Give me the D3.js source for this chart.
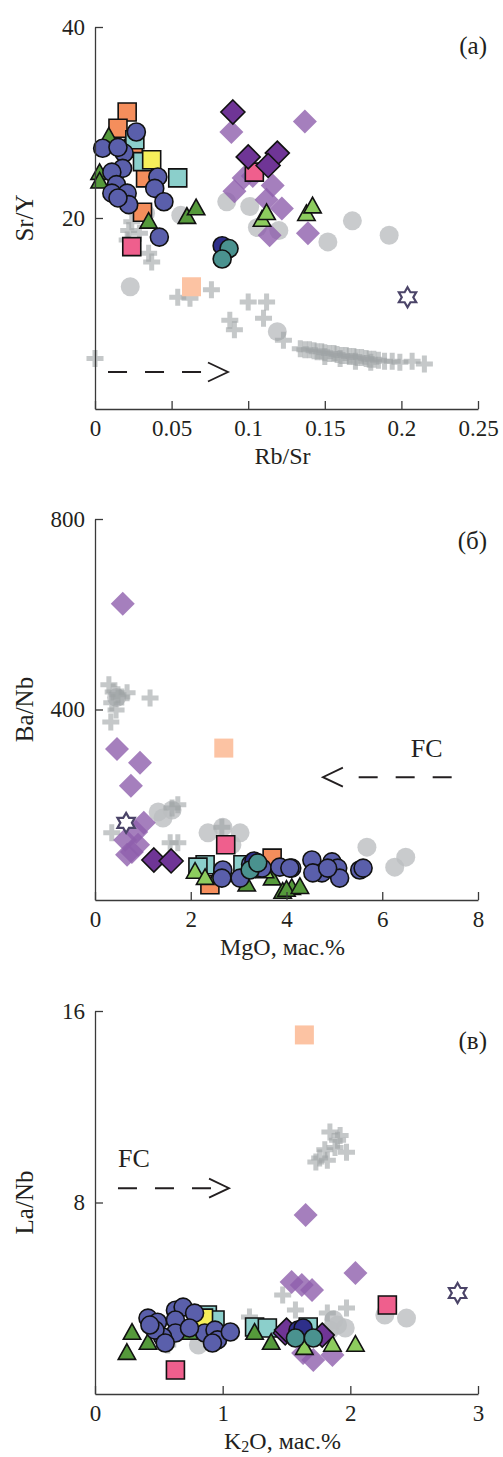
<!DOCTYPE html>
<html>
<head>
<meta charset="utf-8">
<script src="https://cdnjs.cloudflare.com/ajax/libs/d3/7.8.5/d3.min.js"></script>
<style>
body { margin: 0; background: #fff; }
svg text { font-family: "Liberation Serif", "Times New Roman", serif; fill: #231f20; }
</style>
</head>
<body>
<svg id="chart" width="503" height="1457"></svg>
<script>
/**
 * DATA
 * each point is [x, y] in the units of its panel
 */

// Panel (a): Sr/Y vs Rb/Sr
var aXTicks = [0, 0.05, 0.1, 0.15, 0.2, 0.25];
var aYTicks = [20, 40];
var aGrayDot = [[0.023,12.8],[0.033,20.5],[0.056,20.3],[0.086,21.7],[0.101,21.2],[0.106,19.0],[0.120,18.7],[0.152,17.5],[0.168,19.7],[0.192,18.2],[0.119,8.1]];
var aCross = [[0.022,18.7],[0.024,19.6],[0.029,18.4],[0.035,16.3],[0.037,15.4],[0.021,17.7],[0.054,11.7],[0.062,11.6],[0.076,12.5],[0.100,11.2],[0.112,11.2],[0.088,9.3],[0.091,8.3],[0.110,9.5],[0.123,7.2],[0.0,5.3],
  [0.134,6.3],[0.137,6.2],[0.140,6.2],[0.143,6.1],[0.145,6.0],[0.148,6.0],[0.150,5.9],[0.153,5.8],[0.156,5.8],[0.158,5.7],[0.161,5.6],[0.164,5.6],[0.166,5.5],[0.169,5.5],[0.171,5.4],[0.174,5.4],[0.177,5.3],[0.179,5.2],[0.182,5.2],[0.185,5.1],[0.189,5.0],[0.194,5.0],[0.199,4.9],[0.207,5.0],[0.215,4.7],
  [0.150,5.5],[0.160,5.3],[0.170,5.0],[0.180,4.9]];
var aLilac = [[0.089,29.0],[0.137,30.1],[0.091,22.8],[0.103,24.4],[0.097,24.2],[0.116,23.4],[0.112,21.9],[0.122,21.0],[0.114,18.2],[0.139,18.4]];
var aPeach = [[0.063,12.8]];
var aOrange = [[0.021,31.1],[0.015,29.4],[0.025,27.3],[0.033,24.2],[0.031,20.6]];
var aCyan = [[0.026,28.2],[0.031,25.9],[0.054,24.2]];
var aYellow = [[0.037,26.1]];
var aPink = [[0.024,17.0],[0.104,24.8]];
var aGreenDark = [[0.003,24.7],[0.003,23.8],[0.009,28.5],[0.035,19.6],[0.060,20.1],[0.066,21.0]];
var aGreenLight = [[0.109,19.8],[0.112,20.5],[0.138,20.4],[0.142,21.2]];
var aViolet = [[0.090,31.1],[0.100,26.4],[0.119,26.8],[0.113,25.5]];
var aBlue = [[0.027,29.0],[0.005,27.3],[0.019,26.8],[0.015,27.4],[0.018,25.2],[0.011,24.8],[0.014,23.5],[0.011,22.6],[0.021,22.6],[0.022,21.4],[0.041,24.3],[0.039,23.1],[0.045,21.7],[0.042,18.0],[0.015,22.1]];
var aNavy = [[0.083,17.1]];
var aTeal = [[0.0875,16.8],[0.083,15.7]];
var aStar = [[0.204,11.7]];

// Panel (б): Ba/Nb vs MgO
var bXTicks = [0, 2, 4, 6, 8];
var bYTicks = [400, 800];
var bGrayDot = [[1.32,185],[1.61,189],[1.42,172],[2.36,141],[2.67,153],[3.03,141],[2.86,116],[5.68,111],[6.26,69],[6.49,90],[0.45,425]];
var bCross = [[0.29,452],[0.38,437],[0.48,431],[0.35,414],[0.44,399],[0.56,426],[0.67,435],[0.33,374],[1.15,424],[1.61,193],[1.73,200],[0.35,141],[1.57,120],[1.73,120],[2.65,153]];
var bLilac = [[0.58,622],[0.46,317],[0.94,288],[0.75,240],[1.02,162],[0.63,126],[0.77,101],[0.90,116],[0.67,95],[0.86,143]];
var bPeach = [[2.69,319]];
var bOrange = [[2.40,32],[3.70,88]];
var bCyan = [[2.30,74],[2.15,69],[3.09,74]];
var bPink = [[2.73,116]];
var bGreenDark = [[3.92,17],[4.11,25],[3.17,32],[4.00,21],[4.28,27],[2.55,50],[3.70,45]];
var bGreenLight = [[2.09,59],[2.30,46],[3.55,60]];
var bViolet = [[1.23,84],[1.59,82]];
var bBlue = [[2.67,63],[2.65,46],[3.03,46],[3.38,78],[3.49,67],[3.86,69],[4.11,67],[4.53,84],[4.74,57],[4.95,80],[5.07,67],[5.11,46],[4.55,57],[5.53,63],[5.60,67],[4.07,67],[4.86,67],[3.25,75]];
var bNavy = [[3.32,82]];
var bTeal = [[3.24,63],[3.40,78]];
var bStar = [[0.65,162]];

// Panel (в): La/Nb vs K2O
var cXTicks = [0, 1, 2, 3];
var cYTicks = [8, 16];
var cGrayDot = [[0.81,2.05],[1.90,2.88],[1.96,2.76],[1.84,2.67],[2.27,3.3],[2.44,3.17],[1.87,3.1]];
var cCross = [[1.84,10.94],[1.90,10.6],[1.80,10.2],[1.97,10.1],[1.76,9.86],[1.88,10.3],[1.82,9.77],[1.92,10.8],[1.73,9.69],[1.47,4.14],[1.57,3.51],[1.97,3.59],[1.82,3.38],[1.21,3.22],[0.57,2.05]];
var cLilac = [[1.54,4.68],[1.62,4.55],[1.70,4.34],[2.04,5.05],[1.65,7.48],[1.63,1.71],[1.71,1.42],[1.86,1.63]];
var cPeach = [[1.64,15.0]];
var cOrange = [[0.77,2.67]];
var cCyan = [[0.88,3.3],[0.94,3.09],[1.25,2.8],[1.35,2.76],[1.67,2.8]];
var cYellow = [[0.85,3.17]];
var cPink = [[0.63,1.0],[2.29,3.72]];
var cGreenDark = [[0.29,2.55],[0.25,1.71],[0.415,2.13],[0.74,2.55],[1.25,2.55],[1.38,2.13]];
var cGreenLight = [[1.86,2.05],[2.04,2.05],[1.64,1.92]];
var cViolet = [[1.49,2.55],[1.78,2.46],[1.50,2.67]];
var cBlue = [[0.415,3.17],[0.49,3.0],[0.63,3.5],[0.69,3.63],[0.78,3.38],[0.63,3.09],[0.63,2.55],[0.53,2.38],[0.47,2.67],[0.55,2.13],[0.86,2.55],[0.94,2.67],[0.96,2.26],[1.06,2.59],[0.92,2.13],[0.43,2.88],[0.74,2.76]];
var cNavy = [[1.59,2.67],[1.63,2.76]];
var cTeal = [[1.57,2.34],[1.71,2.34]];
var cStar = [[2.84,4.22]];

/**
 * MARKER STYLES (drawn in this order)
 */
var ORDER = ["grayDot","cross","lilac","peach","orange","cyan","yellow","pink","greenDark","greenLight","violet","blue","navy","teal","star"];
var STYLES = {
    grayDot:    {shape: "circle",   size: 9.5, fill: "#bcbec0", opacity: 0.8},
    cross:      {shape: "cross",    size: 17,  fill: "#9ea3a5", opacity: 0.6},
    lilac:      {shape: "diamond",  size: 12,  fill: "#8e5fad", opacity: 0.8},
    peach:      {shape: "square",   size: 19,  fill: "#fcc3a3"},
    orange:     {shape: "square",   size: 18,  fill: "#f58e5c", stroke: true},
    cyan:       {shape: "square",   size: 18,  fill: "#8bcfcb", stroke: true},
    yellow:     {shape: "square",   size: 18,  fill: "#f6ef5a", stroke: true},
    pink:       {shape: "square",   size: 18,  fill: "#ef5f8d", stroke: true},
    greenDark:  {shape: "triangle", size: 15,  fill: "#55993b", stroke: true},
    greenLight: {shape: "triangle", size: 15,  fill: "#8dcc5e", stroke: true},
    violet:     {shape: "diamond",  size: 12,  fill: "#6f3596", stroke: true},
    blue:       {shape: "circle",   size: 9,   fill: "#5a5fab", stroke: true},
    navy:       {shape: "circle",   size: 9,   fill: "#2e2f8a", stroke: true},
    teal:       {shape: "circle",   size: 9,   fill: "#4a928f", stroke: true},
    star:       {shape: "star",     size: 10,  fill: "#fff", line: "#4b4468"}
};

/**
 * PANELS
 */
var PANELS = [
    {
        xMax: 0.25, yMax: 40, top: 27, bottom: 409,
        xTicks: aXTicks, yTicks: aYTicks,
        xTitle: ["Rb/Sr"], yTitle: "Sr/Y", label: "(a)", labelY: 54,
        series: {grayDot: aGrayDot, cross: aCross, lilac: aLilac, peach: aPeach, orange: aOrange, cyan: aCyan, yellow: aYellow, pink: aPink,
                 greenDark: aGreenDark, greenLight: aGreenLight, violet: aViolet, blue: aBlue, navy: aNavy, teal: aTeal, star: aStar},
        arrow: {from: [0.0085, 3.87], tip: [0.0868, 3.87]}
    },
    {
        xMax: 8, yMax: 800, top: 519, bottom: 900,
        xTicks: bXTicks, yTicks: bYTicks,
        xTitle: ["MgO, мас.%"], yTitle: "Ba/Nb", label: "(б)", labelY: 549,
        series: {grayDot: bGrayDot, cross: bCross, lilac: bLilac, peach: bPeach, orange: bOrange, cyan: bCyan, pink: bPink,
                 greenDark: bGreenDark, greenLight: bGreenLight, violet: bViolet, blue: bBlue, navy: bNavy, teal: bTeal, star: bStar},
        arrow: {from: [7.45, 258], tip: [4.76, 258]},
        fc: {at: [6.93, 300], anchor: "middle"}
    },
    {
        xMax: 3, yMax: 16, top: 1011, bottom: 1394,
        xTicks: cXTicks, yTicks: cYTicks,
        xTitle: ["K", "2", "O, мас.%"], yTitle: "La/Nb", label: "(в)", labelY: 1049,
        series: {grayDot: cGrayDot, cross: cCross, lilac: cLilac, peach: cPeach, orange: cOrange, cyan: cCyan, yellow: cYellow, pink: cPink,
                 greenDark: cGreenDark, greenLight: cGreenLight, violet: cViolet, blue: cBlue, navy: cNavy, teal: cTeal, star: cStar},
        arrow: {from: [0.18, 8.6], tip: [1.05, 8.6]},
        fc: {at: [0.18, 9.48], anchor: "start"}
    }
];

var LEFT = 95, RIGHT = 478;
var svg = d3.select("#chart");

// marker outlines, centred on 0,0
function markerPath(shape, s) {
    var h = s / 2;
    if (shape === "circle") return d3.symbol(d3.symbolCircle, Math.PI * s * s)();
    if (shape === "square") return "M" + (-h) + "," + (-h) + "h" + s + "v" + s + "h" + (-s) + "Z";
    if (shape === "diamond") return "M0," + (-s) + "L" + s + ",0L0," + s + "L" + (-s) + ",0Z";
    if (shape === "triangle") return "M0," + (-s * 0.62) + "L" + (s * 0.58) + "," + (s * 0.42) + "L" + (-s * 0.58) + "," + (s * 0.42) + "Z";
    if (shape === "cross") {
        var b = 2.5;
        return "M" + (-b) + "," + (-h) + "H" + b + "V" + (-b) + "H" + h + "V" + b + "H" + b + "V" + h +
               "H" + (-b) + "V" + b + "H" + (-h) + "V" + (-b) + "H" + (-b) + "Z";
    }
    // six-pointed star outline
    var pts = [];
    for (var i = 0; i < 12; i++) {
        var r = i % 2 === 0 ? s : s / Math.sqrt(3);
        var ang = -Math.PI / 2 + i * Math.PI / 6;
        pts.push([r * Math.cos(ang), r * Math.sin(ang)]);
    }
    return "M" + pts.join("L") + "Z";
}

/**
 * Draw one panel
 */
function drawPanel(p) {
    var x = d3.scaleLinear().domain([0, p.xMax]).range([LEFT, RIGHT]);
    var y = d3.scaleLinear().domain([0, p.yMax]).range([p.bottom, p.top]);
    var g = svg.append("g");

    // points
    ORDER.forEach(function(key) {
        var pts = p.series[key];
        if (!pts) return;
        var st = STYLES[key];
        g.append("g").selectAll("path")
        .data(pts)
        .enter().append("path")
        .attr("transform", function(d) { return "translate(" + x(d[0]) + "," + y(d[1]) + ")"; })
        .attr("d", markerPath(st.shape, st.size))
        .attr("fill", st.fill)
        .attr("fill-opacity", st.opacity || 1)
        .attr("stroke", st.line ? st.line : (st.stroke ? "#111" : "none"))
        .attr("stroke-width", st.line ? 2.2 : 1.6)
        .attr("stroke-linejoin", "miter");
    });

    // axes, ticks pointing inward
    var xAxis = g.append("g")
    .attr("transform", "translate(0," + p.bottom + ")")
    .call(d3.axisBottom(x).tickValues(p.xTicks).tickSizeInner(-8).tickSizeOuter(0).tickPadding(11)
        .tickFormat(function(d) { return String(d); }));

    var yAxis = g.append("g")
    .attr("transform", "translate(" + LEFT + ",0)")
    .call(d3.axisLeft(y).tickValues(p.yTicks).tickSizeInner(-8).tickSizeOuter(0).tickPadding(10));

    [xAxis, yAxis].forEach(function(ax) {
        ax.selectAll("path, line").attr("stroke", "#3a3a3a").attr("stroke-width", 1.3);
        ax.selectAll("text").attr("font-size", 23).attr("fill", "#231f20")
        .attr("font-family", "'Liberation Serif', serif");
    });

    // axis titles
    var xt = g.append("text")
    .attr("x", (LEFT + RIGHT) / 2 - 4)
    .attr("y", p.bottom + 55)
    .attr("text-anchor", "middle")
    .attr("font-size", 24);
    if (p.xTitle.length === 1) {
        xt.text(p.xTitle[0]);
    } else {
        xt.append("tspan").text(p.xTitle[0]);
        xt.append("tspan").attr("font-size", 16).attr("dy", 3).text(p.xTitle[1]);
        xt.append("tspan").attr("dy", -3).text(p.xTitle[2]);
    }

    g.append("text")
    .attr("transform", "translate(33," + (p.top + p.bottom) / 2 + ") rotate(-90)")
    .attr("text-anchor", "middle")
    .attr("font-size", 25)
    .text(p.yTitle);

    // panel letter
    g.append("text")
    .attr("x", 487)
    .attr("y", p.labelY)
    .attr("text-anchor", "end")
    .attr("font-size", 25)
    .text(p.label);

    // dashed FC arrow
    var x0 = x(p.arrow.from[0]), y0 = y(p.arrow.from[1]);
    var x1 = x(p.arrow.tip[0]), y1 = y(p.arrow.tip[1]);
    var dir = x1 > x0 ? 1 : -1;
    g.append("line")
    .attr("x1", x0).attr("y1", y0)
    .attr("x2", x0 + dir * 93).attr("y2", y0)
    .attr("stroke", "#231f20")
    .attr("stroke-width", 2)
    .attr("stroke-dasharray", "19,18");
    g.append("path")
    .attr("d", "M" + (x1 - dir * 20) + "," + (y1 - 9.5) + "L" + x1 + "," + y1 + "L" + (x1 - dir * 20) + "," + (y1 + 9.5))
    .attr("fill", "none")
    .attr("stroke", "#231f20")
    .attr("stroke-width", 1.8);

    if (p.fc) {
        g.append("text")
        .attr("x", x(p.fc.at[0]))
        .attr("y", y(p.fc.at[1]))
        .attr("text-anchor", p.fc.anchor)
        .attr("font-size", 26)
        .text("FC");
    }
}

PANELS.forEach(drawPanel);
</script>
</body>
</html>
